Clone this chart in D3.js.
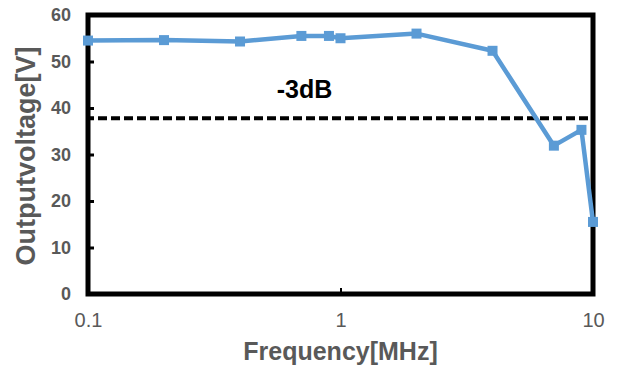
<!DOCTYPE html>
<html lang="en">
<head>
<meta charset="UTF-8">
<title>Output voltage vs frequency</title>
<script src="https://d3js.org/d3.v7.min.js"></script>
<style>
  body { margin: 0; background: #fff; }
  text { font-family: "Liberation Sans", Arial, sans-serif; }
</style>
</head>
<body>
<svg id="chart" width="619" height="369"></svg>
<script>
(function () {
  'use strict';

  // measured points (MHz, V)
  const freqs = [0.1, 0.2, 0.4, 0.7, 0.9, 1, 2, 4, 7, 9, 10];
  const volts = [54.5, 54.6, 54.3, 55.5, 55.5, 55.0, 56.0, 52.3, 31.9, 35.3, 15.5];
  const minus3dB = 37.8;
  const yTicks = [0, 10, 20, 30, 40, 50, 60];
  const xTicks = [0.1, 1, 10];

  const margin = {top: 15, right: 26, bottom: 75, left: 88};
  const width = 619 - margin.left - margin.right;
  const height = 369 - margin.top - margin.bottom;
  const font = '"Liberation Sans", Arial, sans-serif';

  const svg = d3.select('#chart');
  const g = svg.append('g').attr('transform', `translate(${margin.left},${margin.top})`);

  const x = d3.scaleLog().domain([0.1, 10]).range([0, width]);
  const y = d3.scaleLinear().domain([0, 60]).range([height, 0]);

  // y axis: ticks inside the frame, bold grey labels
  const yAxis = g.append('g')
      .call(d3.axisLeft(y).tickValues(yTicks).tickSize(-6).tickPadding(17));
  yAxis.select('.domain').remove();
  yAxis.selectAll('line').attr('stroke', '#000').attr('stroke-width', 3);
  yAxis.selectAll('text')
      .attr('fill', '#595959')
      .style('font-size', '18px')
      .style('font-weight', 'bold')
      .style('font-family', font);

  // x axis: only a small tick at 1, labels below
  const xAxis = g.append('g')
      .attr('transform', `translate(0,${height})`)
      .call(d3.axisBottom(x).tickValues(xTicks).tickFormat(d3.format('')).tickSize(-6).tickPadding(19));
  xAxis.select('.domain').remove();
  xAxis.selectAll('line').attr('stroke', d => d === 1 ? '#000' : 'none').attr('stroke-width', 2);
  xAxis.selectAll('text')
      .attr('fill', '#595959')
      .style('font-size', '20px')
      .style('font-family', font);

  // -3dB reference line
  g.append('line')
      .attr('x1', 0).attr('x2', width)
      .attr('y1', y(minus3dB)).attr('y2', y(minus3dB))
      .attr('stroke', '#000')
      .attr('stroke-width', 4)
      .attr('stroke-dasharray', '9,4')
      .attr('stroke-dashoffset', 3);

  g.append('text')
      .attr('x', x(0.72))
      .attr('y', y(minus3dB) - 20)
      .attr('text-anchor', 'middle')
      .attr('fill', '#000')
      .style('font-size', '25px')
      .style('font-weight', 'bold')
      .text('-3dB');

  // frame
  g.append('rect')
      .attr('width', width).attr('height', height)
      .attr('fill', 'none')
      .attr('stroke', '#000')
      .attr('stroke-width', 5);

  // series
  const pts = freqs.map((f, i) => ({f: f, v: volts[i]}));
  const line = d3.line().x(d => x(d.f)).y(d => y(d.v));

  g.append('path')
      .datum(pts)
      .attr('fill', 'none')
      .attr('stroke', '#5B9BD5')
      .attr('stroke-width', 4.5)
      .attr('stroke-linejoin', 'round')
      .attr('d', line);

  const ms = 10;
  g.selectAll('rect.mk')
      .data(pts)
      .join('rect')
      .attr('class', 'mk')
      .attr('x', d => x(d.f) - ms / 2)
      .attr('y', d => y(d.v) - ms / 2)
      .attr('width', ms).attr('height', ms)
      .attr('fill', '#5B9BD5');

  // axis titles
  svg.append('text')
      .attr('transform', 'translate(35,156) rotate(-90)')
      .attr('text-anchor', 'middle')
      .attr('fill', '#595959')
      .style('font-size', '27px')
      .style('font-weight', 'bold')
      .text('Outputvoltage[V]');

  svg.append('text')
      .attr('x', margin.left + x(1))
      .attr('y', 360)
      .attr('text-anchor', 'middle')
      .attr('fill', '#595959')
      .style('font-size', '25px')
      .style('font-weight', 'bold')
      .text('Frequency[MHz]');
}());
</script>
</body>
</html>
